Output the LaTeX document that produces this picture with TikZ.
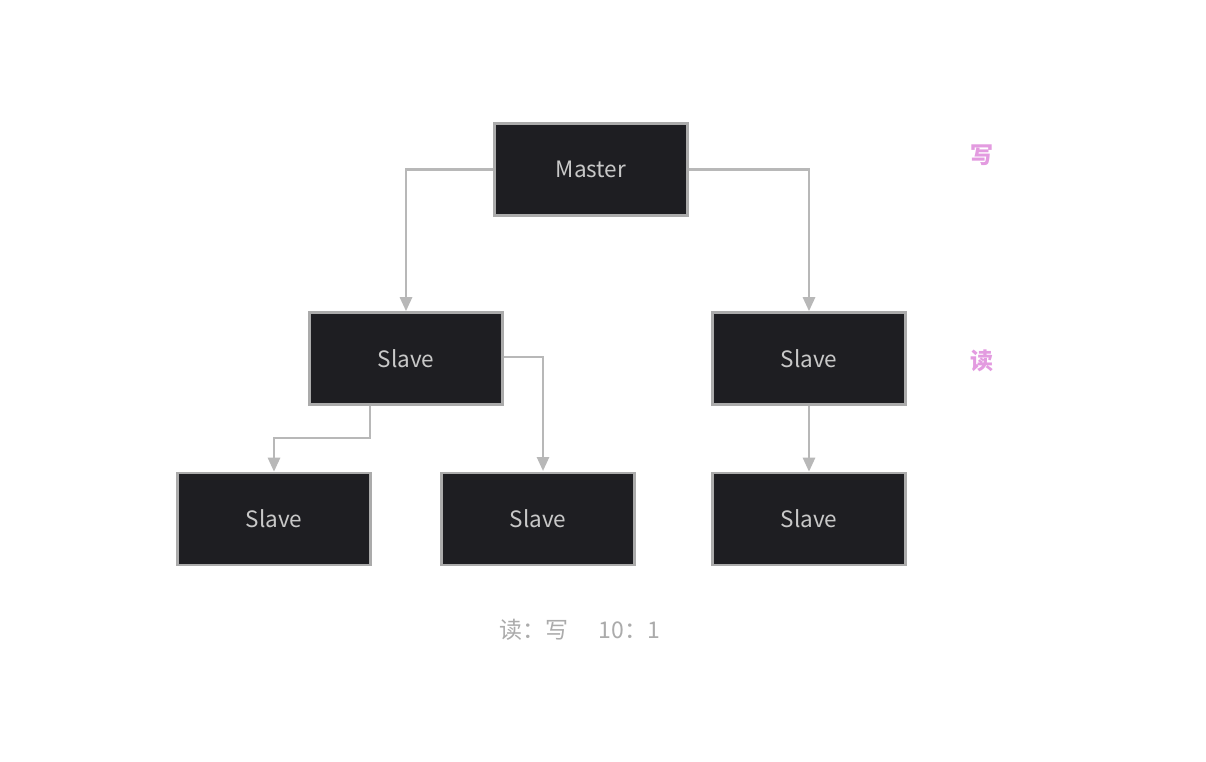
\documentclass[tikz,border=0pt]{standalone}
\usepackage{fontspec}
\setmainfont{Noto Sans CJK SC}
\newfontfamily\cjk{Noto Sans CJK SC}
\usetikzlibrary{arrows.meta}
\definecolor{boxfill}{HTML}{1E1E22}
\definecolor{boxline}{HTML}{ABABAB}
\definecolor{txt}{HTML}{C8C8C8}
\definecolor{conn}{HTML}{B8B8B8}
\definecolor{pinkt}{HTML}{E39BE0}
\definecolor{note}{HTML}{ABABAB}
\tikzset{
  srv/.style={draw=boxline, line width=2.6pt, fill=boxfill, minimum width=193pt, minimum height=92pt, text=txt, font=\fontsize{22.5}{26}\selectfont, inner sep=0pt},
  conn/.style={draw=conn, line width=2.6pt, -{Triangle[length=14pt,width=12pt,fill=conn]}},
  side/.style={text=pinkt, font=\cjk\bfseries\fontsize{23}{26}\selectfont},
}
\begin{document}
\begin{tikzpicture}[x=1pt,y=-1pt]
\useasboundingbox (0,0) rectangle (1206,762);
\fill[white] (0,0) rectangle (1206,762);
\node[srv] (m) at (591,169.5) {Master};
\node[srv] (sl) at (406,358.5) {Slave};
\node[srv] (sr) at (809,358.5) {Slave};
\node[srv] (b1) at (274,519) {Slave};
\node[srv] (b2) at (538,519) {Slave};
\node[srv] (b3) at (809,519) {Slave};
\draw[conn] (m.west) -| (sl.north);
\draw[conn] (m.east) -| (sr.north);
\coordinate (slb) at (370,406);
\coordinate (bend) at (370,438);
\draw[conn] (slb) -- (bend) -| (b1.north);
\coordinate (slr) at (504,357);
\coordinate (b2t) at (543,471);
\draw[conn] (slr) -| (b2t);
\draw[conn] (sr.south) -- (b3.north);
\node[side] (w) at (982,155) {写};
\node[side] (r) at (982,361) {读};
\node[text=note, font=\cjk\fontsize{23}{26}\selectfont, anchor=west] (ratio) at (496,630) {读：写\hspace{30pt}10：1};
\end{tikzpicture}
\end{document}
